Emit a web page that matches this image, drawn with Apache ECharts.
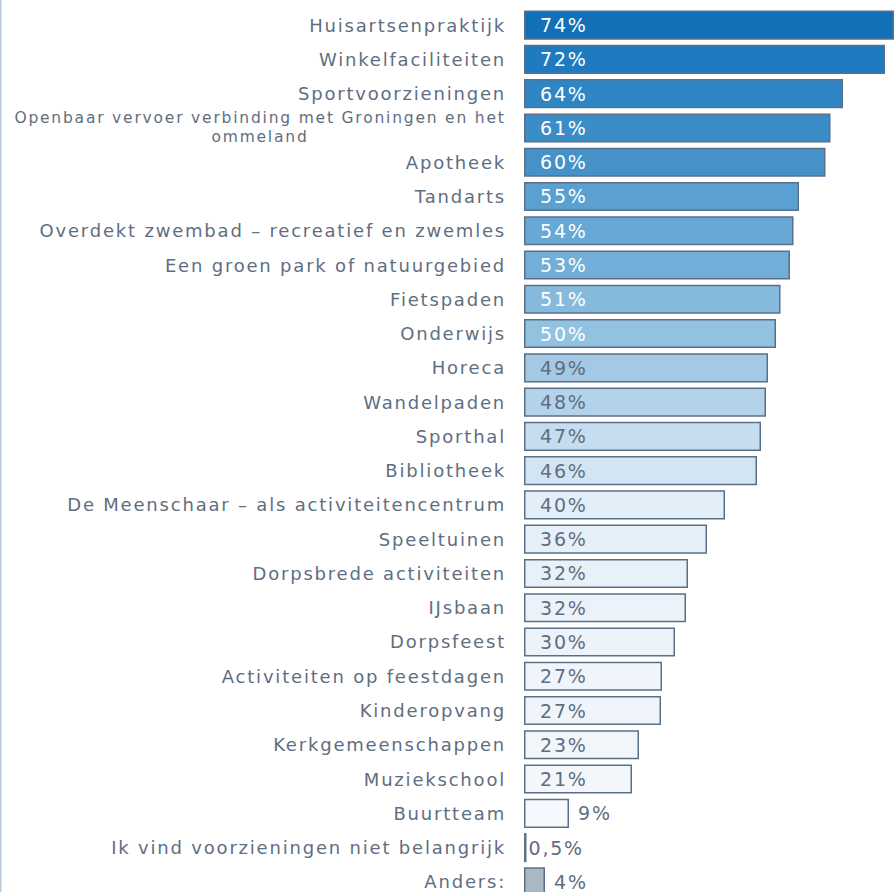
<!DOCTYPE html>
<html>
<head>
<meta charset="utf-8">
<script src="https://cdn.jsdelivr.net/npm/echarts@6/dist/echarts.min.js"></script>
<style>
	html, body { margin: 0; padding: 0; background: #fff; overflow: hidden; }
	#chart { width: 895px; height: 900px; }
	/* brede letters zoals in het origineel */
	#chart text { letter-spacing: 1.8px; }
</style>
</head>
<body>
<div id="chart"></div>
<script>
// voorzieningen (van boven naar beneden)
var categories = [
	'Huisartsenpraktijk', 'Winkelfaciliteiten', 'Sportvoorzieningen',
	'Openbaar vervoer verbinding met Groningen en het ommeland',
	'Apotheek', 'Tandarts', 'Overdekt zwembad – recreatief en zwemles',
	'Een groen park of natuurgebied', 'Fietspaden', 'Onderwijs', 'Horeca',
	'Wandelpaden', 'Sporthal', 'Bibliotheek',
	'De Meenschaar – als activiteitencentrum', 'Speeltuinen',
	'Dorpsbrede activiteiten', 'IJsbaan', 'Dorpsfeest',
	'Activiteiten op feestdagen', 'Kinderopvang', 'Kerkgemeenschappen',
	'Muziekschool', 'Buurtteam', 'Ik vind voorzieningen niet belangrijk', 'Anders:'
];
// geschatte waarden (lengte van de balken)
var values = [74, 72.2, 63.8, 61.3, 60.3, 55, 53.9, 53.2, 51.3, 50.4, 48.8, 48.4, 47.4, 46.6,
	40.2, 36.6, 32.8, 32.4, 30.2, 27.6, 27.4, 23, 21.6, 9, 0.5, 4.2];
// labels zoals ze in de grafiek staan
var labels = ['74%', '72%', '64%', '61%', '60%', '55%', '54%', '53%', '51%', '50%', '49%',
	'48%', '47%', '46%', '40%', '36%', '32%', '32%', '30%', '27%', '27%', '23%', '21%',
	'9%', '0,5%', '4%'];
var colors = ['#1270b8', '#1f7bc0', '#2e86c4', '#3a8dc7', '#4592c9', '#5aa0d0', '#67a8d4',
	'#72aed7', '#86badd', '#93c1e0', '#a3c9e4', '#b3d3ea', '#c5ddee', '#d3e5f2', '#e2eef8',
	'#e6f0f9', '#e9f1f8', '#ebf2f9', '#edf3fa', '#eff5fb', '#f0f5fb', '#f2f6fb', '#f3f7fc',
	'#f5f8fc', '#8aa0b8', '#aab8c4'];

var textColor = '#5f6e80';
var fontFam = 'DejaVu Sans';

var chart = echarts.init(document.getElementById('chart'), null, { renderer: 'svg' });

var barData = values.map(function (v, i) {
	var item = {
		value: v,
		itemStyle: { color: colors[i] },
		label: { formatter: labels[i], color: i < 10 ? '#ffffff' : textColor }
	};
	// kleine balken: label rechts ernaast
	if (v < 10) {
		item.label.position = 'right';
		item.label.distance = v < 1 ? 2 : 9;
	}
	return item;
});

var option = {
	animation: false,
	graphic: [{
		type: 'rect',
		shape: { x: 0, y: 0, width: 1.5, height: 900 },
		style: { fill: '#b8c8d8' }
	}],
	grid: { left: 524, right: 1, top: 8, height: 891, containLabel: false },
	xAxis: {
		type: 'value', min: 0, max: 74, show: false
	},
	yAxis: {
		type: 'category',
		inverse: true,
		data: categories,
		axisLine: { show: false },
		axisTick: { show: false },
		axisLabel: {
			margin: 18,
			fontFamily: fontFam,
			fontSize: 18,
			color: textColor,
			formatter: function (v) {
				if (v.indexOf('Openbaar') === 0) {
					return '{s|Openbaar vervoer verbinding met Groningen en het}\n{s|ommeland}';
				}
				return v;
			},
			rich: {
				s: { fontFamily: fontFam, fontSize: 15.5, color: textColor, align: 'center', width: 492, lineHeight: 19 }
			}
		}
	},
	series: [{
		type: 'bar',
		data: barData,
		barCategoryGap: '15%',
		itemStyle: { borderColor: '#5b7088', borderWidth: 1.5 },
		label: {
			show: true,
			position: 'insideLeft',
			distance: 16,
			fontFamily: fontFam,
			fontSize: 19,
			color: textColor
		}
	}]
};

chart.setOption(option);
</script>
</body>
</html>
